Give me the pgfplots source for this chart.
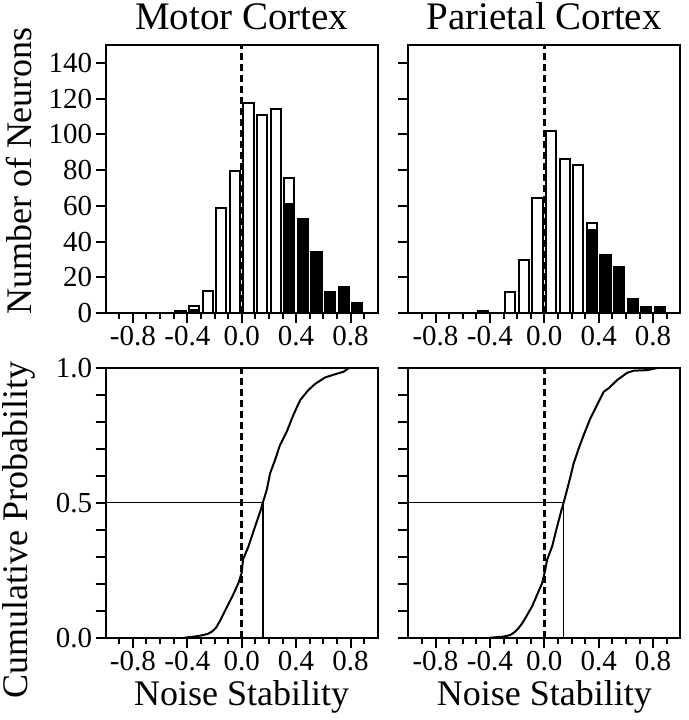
\documentclass[border=0pt]{standalone}
\usepackage{fontspec}
\setmainfont{Liberation Serif}
\usepackage{pgfplots}
\pgfplotsset{compat=1.18}

\pgfplotsset{
  panel/.style={
    scale only axis, width=272pt,
    xmin=-1, xmax=1,
    axis line style={line width=2pt},
    every tick/.style={line width=2pt, black},
    tick align=outside,
    xtick pos=left, ytick pos=left,
    major tick length=10pt, minor tick length=6pt,
    xtick={-0.8,-0.4,0,0.4,0.8},
    xticklabels={-0.8,-0.4,0.0,0.4,0.8},
    minor xtick={-0.9,-0.7,-0.6,-0.5,-0.3,-0.2,-0.1,0.1,0.2,0.3,0.5,0.6,0.7,0.9},
    ticklabel style={font=\fontsize{29}{29}\selectfont},
    xticklabel style={inner sep=1pt, yshift=-2pt},
    label style={font=\fontsize{36}{36}\selectfont},
    title style={font=\fontsize{39}{39}\selectfont, at={(0.5,1)}, anchor=south, inner sep=0pt, yshift=9pt},
  },
  hist/.style={panel, height=268pt, ymin=0, ymax=150,
    ytick={0,20,...,140}},
  cdf/.style={panel, height=270pt, ymin=0, ymax=1,
    ytick={0,0.1,...,1.01},
    xlabel={Noise Stability},
    xlabel style={at={(axis description cs:0.5,0)}, anchor=north, inner sep=0pt, yshift=-43pt}},
  whitebar/.style={ybar, bar width=0.074, bar shift=0pt, fill=white, draw=black, line width=2pt},
  blackbar/.style={ybar, bar width=0.074, bar shift=0pt, fill=black, draw=black, line width=2pt},
  zeroline/.style={line width=3.2pt, dash pattern=on 7pt off 4pt},
}

\begin{document}
\begin{tikzpicture}
\useasboundingbox (0,0) rectangle (688pt,720pt);

% motor cortex histogram
\begin{axis}[hist, at={(105.7pt,407pt)}, anchor=south west,
  title={Motor Cortex},
  yticklabels={0,20,40,60,80,100,120,140},
  ylabel={Number of Neurons},
  ylabel style={at={(axis description cs:-0.32,0.53)}, anchor=center}]
\addplot[whitebar] coordinates {(-0.45,1) (-0.35,4) (-0.25,12.5) (-0.15,58.5) (-0.05,79.5)
  (0.05,117.5) (0.15,111) (0.25,114) (0.35,75.5) (0.45,52.5) (0.55,34) (0.65,12) (0.75,14.5) (0.85,5.5)};
\addplot[blackbar] coordinates {(-0.45,1) (-0.35,1.5) (0.35,61) (0.45,52.5) (0.55,34) (0.65,12) (0.75,14.5) (0.85,5.5)};
\addplot[zeroline] coordinates {(0,0) (0,150)};
\end{axis}

% parietal cortex histogram
\begin{axis}[hist, at={(408.3pt,407pt)}, anchor=south west,
  title={Parietal Cortex},
  yticklabels={}]
\addplot[whitebar] coordinates {(-0.45,1) (-0.25,11.5) (-0.15,29.5) (-0.05,64.5)
  (0.05,102) (0.15,86) (0.25,83) (0.35,50.5) (0.45,32.5) (0.55,25.5) (0.65,8) (0.75,3.5) (0.85,3.5)};
\addplot[blackbar] coordinates {(-0.45,1) (0.35,46.5) (0.45,32.5) (0.55,25.5) (0.65,8) (0.75,3.5) (0.85,3.5)};
\addplot[zeroline] coordinates {(0,0) (0,150)};
\end{axis}

% motor cortex cumulative
\begin{axis}[cdf, at={(105.7pt,82.3pt)}, anchor=south west,
  yticklabels={0.0,,,,,0.5,,,,,1.0},
  ylabel={Cumulative Probability},
  ylabel style={at={(axis description cs:-0.32,0.40)}, anchor=center}]
\addplot[zeroline] coordinates {(0,0) (0,1)};
\addplot[line width=1.5pt] coordinates {(-1,0.5) (0.155,0.5) (0.155,0)};
\addplot[line width=2pt] coordinates {
  (-0.42,0) (-0.35,0.004) (-0.3,0.008) (-0.25,0.014) (-0.22,0.022) (-0.19,0.036)
  (-0.16,0.062) (-0.113,0.109) (-0.064,0.158) (-0.025,0.201) (0.0,0.24) (0.01,0.29)
  (0.049,0.337) (0.098,0.411) (0.14,0.473) (0.155,0.5) (0.184,0.547) (0.209,0.609)
  (0.245,0.658) (0.282,0.714) (0.331,0.763) (0.38,0.825) (0.43,0.88) (0.49,0.917)
  (0.54,0.94) (0.614,0.964) (0.688,0.976) (0.749,0.985) (0.786,0.998) (0.8,1) (1,1)};
\end{axis}

% parietal cortex cumulative
\begin{axis}[cdf, at={(408.3pt,82.3pt)}, anchor=south west,
  yticklabels={}]
\addplot[zeroline] coordinates {(0,0) (0,1)};
\addplot[line width=1.5pt] coordinates {(-1,0.5) (0.142,0.5) (0.142,0)};
\addplot[line width=2pt] coordinates {
  (-0.4,0) (-0.3,0.004) (-0.25,0.01) (-0.22,0.02) (-0.19,0.035) (-0.16,0.055)
  (-0.14,0.072) (-0.091,0.115) (-0.054,0.158) (-0.017,0.201) (0.007,0.251) (0.02,0.288)
  (0.057,0.337) (0.094,0.411) (0.123,0.467) (0.142,0.5) (0.167,0.547) (0.192,0.596)
  (0.216,0.646) (0.253,0.701) (0.29,0.751) (0.339,0.813) (0.388,0.862) (0.437,0.911)
  (0.474,0.924) (0.535,0.954) (0.609,0.981) (0.658,0.989) (0.757,0.991) (0.843,1) (1,1)};
\end{axis}
\end{tikzpicture}
\end{document}
